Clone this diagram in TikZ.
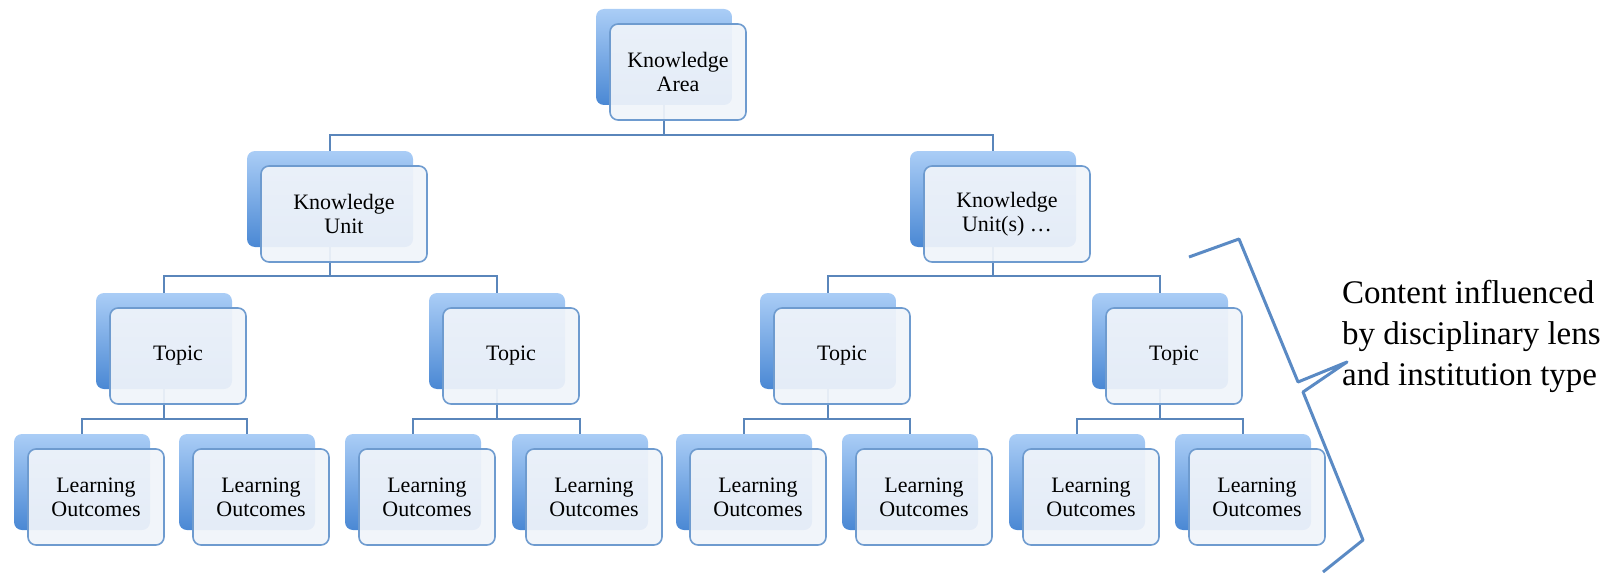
\documentclass[tikz,border=0pt]{standalone}
\usepackage{fontspec}
\setmainfont{Liberation Serif}
\usetikzlibrary{backgrounds}

\definecolor{boxline}{HTML}{6E9BCF}
\definecolor{boxfill}{HTML}{F0F4FA}
\definecolor{backtop}{HTML}{AACDF6}
\definecolor{backbot}{HTML}{4A88D4}
\definecolor{linkcol}{HTML}{5A86BB}
\definecolor{bracecol}{HTML}{5A8AC4}

% back box with a lighter box on top of it
\newcommand{\pairbox}[5][]{%
  \node[backbox, #1] (#2-b) at (#3,#4) {};
  \node[frontbox, #1] (#2) at ([shift={(14,15)}]#2-b) {#5};
}

\begin{document}
\begin{tikzpicture}[x=1pt, y=-1pt,
    backbox/.style={rounded corners=8pt, top color=backtop, bottom color=backbot,
      minimum width=136pt, minimum height=96pt, inner sep=0pt},
    frontbox/.style={draw=boxline, line width=1.6pt, rounded corners=8pt,
      fill=boxfill, fill opacity=0.93, text opacity=1, align=center,
      minimum width=136pt, minimum height=96pt, inner sep=0pt,
      font=\fontsize{22}{24}\selectfont},
    wide/.style={minimum width=166pt},
    link/.style={draw=linkcol, line width=1.8pt}]

  \useasboundingbox (0,0) rectangle (1608,575);

  % Knowledge area
  \pairbox{ka}{664}{57}{Knowledge\\Area}

  % Knowledge units
  \pairbox[wide]{ku1}{330}{199}{Knowledge\\Unit}
  \pairbox[wide]{ku2}{993}{199}{Knowledge\\Unit(s) \dots}

  % Topics
  \pairbox{t1}{164}{341}{Topic}
  \pairbox{t2}{497}{341}{Topic}
  \pairbox{t3}{828}{341}{Topic}
  \pairbox{t4}{1160}{341}{Topic}

  % Learning outcomes
  \pairbox{lo1}{82}{482}{Learning\\Outcomes}
  \pairbox{lo2}{247}{482}{Learning\\Outcomes}
  \pairbox{lo3}{413}{482}{Learning\\Outcomes}
  \pairbox{lo4}{580}{482}{Learning\\Outcomes}
  \pairbox{lo5}{744}{482}{Learning\\Outcomes}
  \pairbox{lo6}{910}{482}{Learning\\Outcomes}
  \pairbox{lo7}{1077}{482}{Learning\\Outcomes}
  \pairbox{lo8}{1243}{482}{Learning\\Outcomes}

  % Connections
  \begin{scope}[on background layer]
    \draw[link] (ka-b.south) -- ++(0,30) -| (ku1-b.north);
    \draw[link] (ka-b.south) -- ++(0,30) -| (ku2-b.north);
    \draw[link] (ku1-b.south) -- ++(0,29) -| (t1-b.north);
    \draw[link] (ku1-b.south) -- ++(0,29) -| (t2-b.north);
    \draw[link] (ku2-b.south) -- ++(0,29) -| (t3-b.north);
    \draw[link] (ku2-b.south) -- ++(0,29) -| (t4-b.north);
    \draw[link] (t1-b.south) -- ++(0,30) -| (lo1-b.north);
    \draw[link] (t1-b.south) -- ++(0,30) -| (lo2-b.north);
    \draw[link] (t2-b.south) -- ++(0,30) -| (lo3-b.north);
    \draw[link] (t2-b.south) -- ++(0,30) -| (lo4-b.north);
    \draw[link] (t3-b.south) -- ++(0,30) -| (lo5-b.north);
    \draw[link] (t3-b.south) -- ++(0,30) -| (lo6-b.north);
    \draw[link] (t4-b.south) -- ++(0,30) -| (lo7-b.north);
    \draw[link] (t4-b.south) -- ++(0,30) -| (lo8-b.north);
  \end{scope}

  % Brace and note
  \coordinate (tip) at (1347,362);
  \draw[bracecol, line width=3pt, line join=round]
    (1189,257) -- (1239,239) -- (1298,382) -- (tip)
    -- (1303,392) -- (1363,540) -- (1323,572);
  \node[anchor=west, align=left, inner sep=0pt,
    font=\fontsize{33}{41}\selectfont] (note) at (1342,336)
    {Content influenced\\by disciplinary lens\\and institution type};

\end{tikzpicture}
\end{document}
